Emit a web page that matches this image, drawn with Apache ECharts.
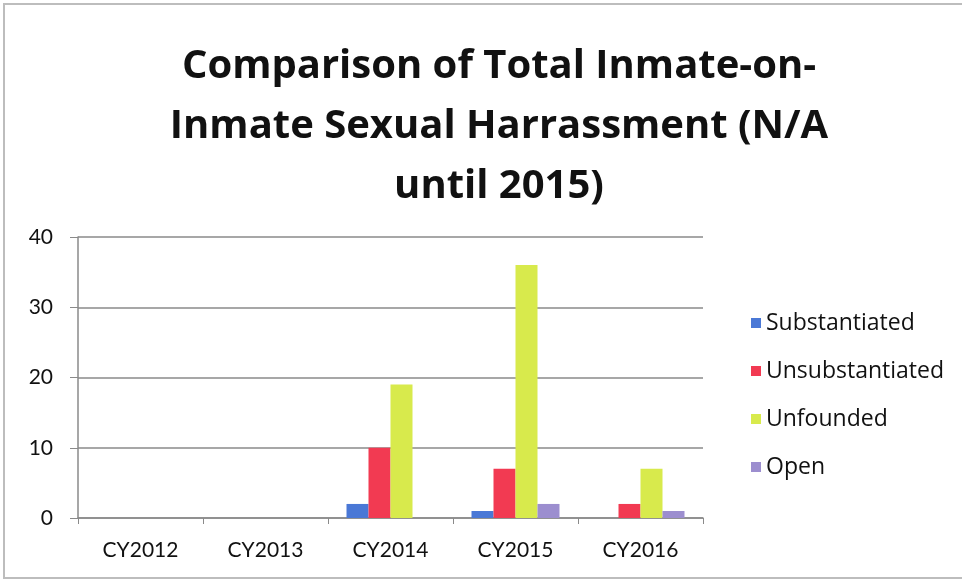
<!DOCTYPE html>
<html>
<head>
<meta charset="utf-8">
<script src="https://cdn.jsdelivr.net/npm/echarts@6/dist/echarts.min.js"></script>
<style>
  html, body { margin: 0; padding: 0; background: #fff; }
  #chart { width: 962px; height: 584px; }
</style>
</head>
<body>
<div id="chart"></div>
<script>
const years = ["CY2012", "CY2013", "CY2014", "CY2015", "CY2016"];
const substantiated = [0, 0, 2, 1, 0];
const unsubstantiated = [0, 0, 10, 7, 2];
const unfounded = [0, 0, 19, 36, 7];
const openCases = [0, 0, 0, 2, 1];

const chart = echarts.init(document.getElementById("chart"));

const font = "Lato, 'Open Sans', sans-serif";
// Lato joins "ti", so title and legend use Open Sans
const textFont = "'Open Sans', sans-serif";
const axisGray = "#8a8a8a";

const bar = (name, data, color) => ({
  name,
  type: "bar",
  data,
  barWidth: 22,
  barGap: "0%",
  itemStyle: { color },
});

chart.setOption({
  animation: false,
  backgroundColor: "#fff",
  textStyle: { fontFamily: font },
  title: {
    text: "Comparison of Total Inmate-on-\nInmate Sexual Harrassment (N/A\nuntil 2015)",
    left: 494,
    top: 32,
    textAlign: "center",
    textStyle: {
      fontFamily: textFont,
      fontSize: 40,
      fontWeight: "bold",
      color: "#111",
      lineHeight: 60,
    },
  },
  legend: {
    orient: "vertical",
    left: 746,
    top: 306,
    icon: "rect",
    itemWidth: 10,
    itemHeight: 10,
    itemGap: 24,
    textStyle: { fontFamily: textFont, fontSize: 23, color: "#111", lineHeight: 24 },
    data: ["Substantiated", "Unsubstantiated", "Unfounded", "Open"],
  },
  grid: { left: 78, right: 259, top: 237, bottom: 66 },
  xAxis: {
    type: "category",
    data: years,
    boundaryGap: true,
    axisLine: { lineStyle: { color: axisGray, width: 1.5 } },
    axisTick: { show: true, length: 6, lineStyle: { color: axisGray } },
    axisLabel: { fontFamily: font, fontSize: 21, color: "#111", margin: 22 },
  },
  yAxis: {
    type: "value",
    min: 0,
    max: 40,
    interval: 10,
    axisLine: { show: true, lineStyle: { color: axisGray, width: 1.5 } },
    axisTick: { show: true, length: 8, lineStyle: { color: axisGray } },
    axisLabel: { fontFamily: font, fontSize: 21, color: "#111", margin: 25 },
    splitLine: { lineStyle: { color: axisGray, width: 1.5 } },
  },
  graphic: [
    {
      type: "rect",
      shape: { x: 4, y: 4, width: 1000, height: 574 },
      style: { fill: null, stroke: "#bdbdbd", lineWidth: 2 },
      silent: true,
    },
  ],
  series: [
    bar("Substantiated", substantiated, "#4a78d6"),
    bar("Unsubstantiated", unsubstantiated, "#f23a52"),
    bar("Unfounded", unfounded, "#d8ea4c"),
    bar("Open", openCases, "#9c8ecf"),
  ],
});
</script>
</body>
</html>
